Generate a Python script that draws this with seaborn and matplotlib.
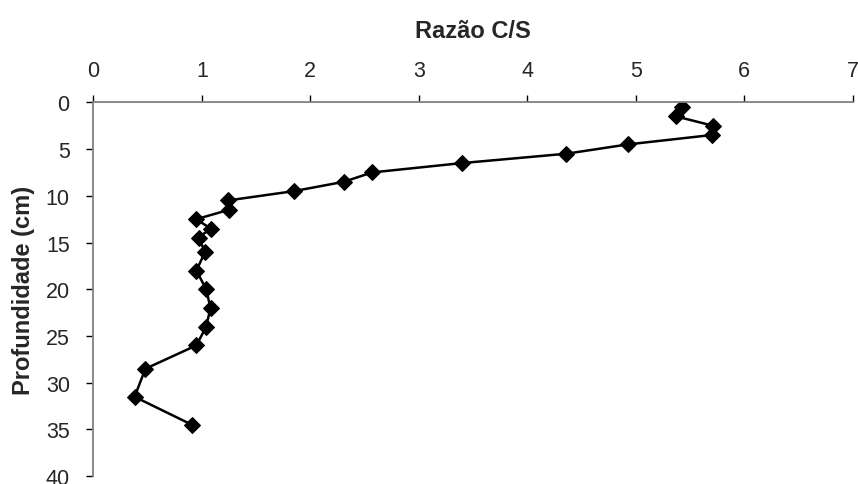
import numpy as np
import pandas as pd
import seaborn as sns
import matplotlib
matplotlib.use("Agg")
from matplotlib import pyplot as plt

# razao C/S por profundidade
profundidade = [0.5, 1.5, 2.5, 3.5, 4.5, 5.5, 6.5, 7.5, 8.5, 9.5, 10.5, 11.5,
                12.5, 13.5, 14.5, 16, 18, 20, 22, 24, 26, 28.5, 31.5, 34.5]
razao_cs = [5.43, 5.37, 5.71, 5.70, 4.93, 4.36, 3.40, 2.57, 2.31, 1.85, 1.24, 1.25,
            0.95, 1.08, 0.97, 1.03, 0.95, 1.04, 1.08, 1.04, 0.95, 0.48, 0.38, 0.91]
x_ticks = [0, 1, 2, 3, 4, 5, 6, 7]
y_ticks = [0, 5, 10, 15, 20, 25, 30, 35, 40]

_df = pd.DataFrame({"Profundidade (cm)": profundidade, "Razão C/S": razao_cs})

sns.set_style("white")
plt.rcParams["font.family"] = ["Liberation Sans", "DejaVu Sans"]

fig = plt.figure(figsize=(8.58, 4.85), dpi=100)
ax = fig.add_axes([0.1088, 0.016, 0.885, 0.771])

# estimator=None: keep every point, no aggregation over repeated x
sns.lineplot(data=_df, x="Razão C/S", y="Profundidade (cm)", sort=False,
             estimator=None, errorbar=None,
             color="black", linewidth=1.8, marker="D", markersize=8.5,
             markeredgecolor="black", ax=ax)

ax.set_xlim(0, 7)
ax.set_ylim(40, 0)
ax.set_xticks(x_ticks)
ax.set_yticks(y_ticks)
ax.xaxis.tick_top()
ax.xaxis.set_label_position("top")
ax.set_xlabel("Razão C/S", fontsize=17, fontweight="bold", labelpad=17)
ax.set_ylabel("Profundidade (cm)", fontsize=17, fontweight="bold", labelpad=8)

for side in ["right", "bottom"]:
    ax.spines[side].set_visible(False)
for side in ["left", "top"]:
    ax.spines[side].set_color("#808080")
    ax.spines[side].set_linewidth(1.3)

ax.tick_params(axis="both", labelsize=15.5, length=5, width=1, color="black",
               direction="out")
ax.tick_params(axis="x", top=True, bottom=False, pad=10)
ax.tick_params(axis="y", left=True, pad=12)

fig.savefig("out.png", dpi=100)
